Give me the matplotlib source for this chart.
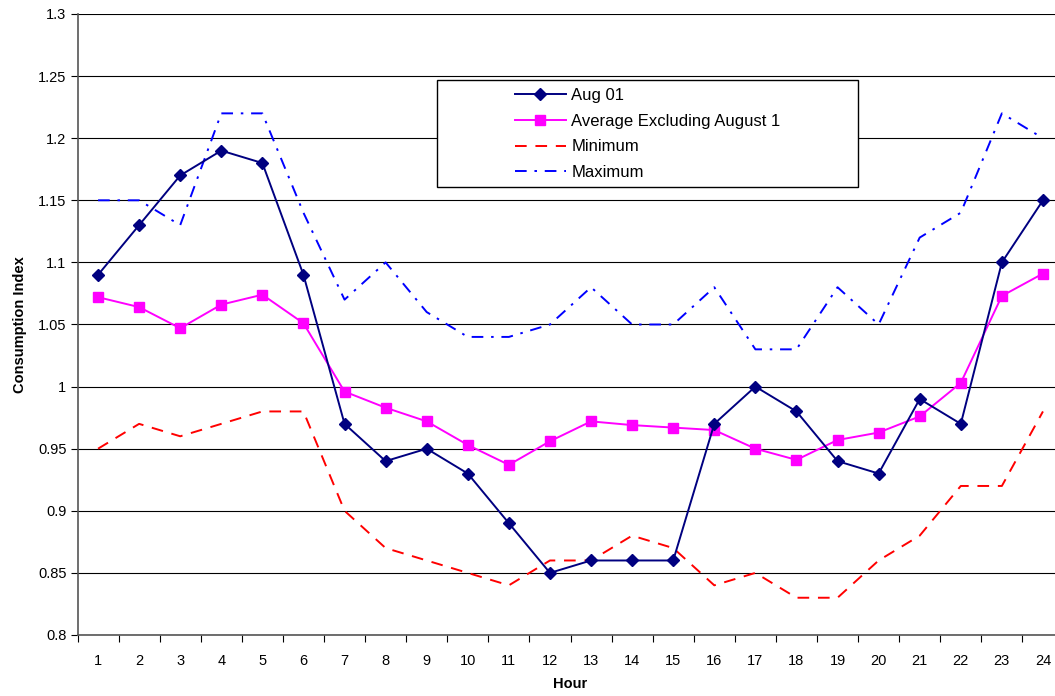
import matplotlib
matplotlib.use("Agg")
import matplotlib.pyplot as plt
from matplotlib.patches import Rectangle

plt.rcParams['font.family'] = ['Liberation Sans', 'DejaVu Sans']

hours = list(range(1, 25))
hour_labels = [str(h) for h in hours]

aug01 = [1.09, 1.13, 1.17, 1.19, 1.18, 1.09, 0.97, 0.94, 0.95, 0.93, 0.89, 0.85,
         0.86, 0.86, 0.86, 0.97, 1.00, 0.98, 0.94, 0.93, 0.99, 0.97, 1.10, 1.15]
average_excl = [1.072, 1.064, 1.047, 1.066, 1.074, 1.051, 0.996, 0.983, 0.972, 0.953,
                0.937, 0.956, 0.972, 0.969, 0.967, 0.965, 0.950, 0.941, 0.957, 0.963,
                0.976, 1.003, 1.073, 1.091]
minimum = [0.95, 0.97, 0.96, 0.97, 0.98, 0.98, 0.90, 0.87, 0.86, 0.85, 0.84, 0.86,
           0.86, 0.88, 0.87, 0.84, 0.85, 0.83, 0.83, 0.86, 0.88, 0.92, 0.92, 0.98]
maximum = [1.15, 1.15, 1.13, 1.22, 1.22, 1.14, 1.07, 1.10, 1.06, 1.04, 1.04, 1.05,
           1.08, 1.05, 1.05, 1.08, 1.03, 1.03, 1.08, 1.05, 1.12, 1.14, 1.22, 1.20]

y_ticks = [0.8, 0.85, 0.9, 0.95, 1.0, 1.05, 1.1, 1.15, 1.2, 1.25, 1.3]
y_tick_labels = ['0.8', '0.85', '0.9', '0.95', '1', '1.05', '1.1', '1.15', '1.2', '1.25', '1.3']

W, H = 1055, 696
fig = plt.figure(figsize=(W / 100, H / 100), dpi=100)
ax = fig.add_axes([77.5 / W, 1 - 635 / H, 986 / W, 621 / H])

ax.plot(hours, aug01, color='#000080', lw=1.4, marker='D', ms=6,
        markerfacecolor='#000080', markeredgecolor='#000080', label='Aug 01', zorder=5)
ax.plot(hours, average_excl, color='#FF00FF', lw=1.4, marker='s', ms=7.5,
        markerfacecolor='#FF00FF', markeredgecolor='#FF00FF',
        label='Average Excluding August 1', zorder=4)
ax.plot(hours, minimum, color='#FF0000', lw=1.4, linestyle=(0, (6, 4.5)),
        label='Minimum', zorder=3)
ax.plot(hours, maximum, color='#0000FF', lw=1.4, linestyle=(0, (6, 4, 1.3, 4)),
        label='Maximum', zorder=3)

ax.set_xlim(0.5, 24.5)
ax.set_ylim(0.8, 1.3)
ax.set_yticks(y_ticks)
ax.set_yticklabels(y_tick_labels)
ax.set_xticks(hours)
ax.set_xticklabels(hour_labels)
ax.set_xticks([h + 0.5 for h in range(0, 24)], minor=True)
ax.tick_params(axis='x', which='major', length=0, pad=14, labelsize=10.5)
ax.tick_params(axis='x', which='minor', length=5, width=0.8, direction='out')
ax.tick_params(axis='y', length=5, width=0.8, direction='out', labelsize=10.5, pad=3)

for y in y_ticks:
    ax.axhline(y, color='black', lw=0.8, zorder=1)

for side in ('top', 'right'):
    ax.spines[side].set_visible(False)
ax.spines['left'].set_color('#555555')
ax.spines['bottom'].set_color('#555555')
ax.spines['left'].set_linewidth(1.2)
ax.spines['bottom'].set_linewidth(1.2)

ax.set_xlabel('Hour', fontsize=10.5, fontweight='bold', labelpad=6)
ax.set_ylabel('Consumption Index', fontsize=10.5, fontweight='bold', labelpad=8)

# Legend box with centered entries
box = Rectangle((437 / W, 1 - 187 / H), 421 / W, 107 / H, transform=fig.transFigure,
                facecolor='white', edgecolor='black', lw=1.0, zorder=10)
fig.patches.append(box)
leg = fig.legend(loc='center', bbox_to_anchor=(647.5 / W, 1 - 134 / H),
                 frameon=False, fontsize=12, handlelength=3.1, handletextpad=0.3,
                 labelspacing=0.65)
leg.set_zorder(11)

fig.savefig('out.png', dpi=100)
